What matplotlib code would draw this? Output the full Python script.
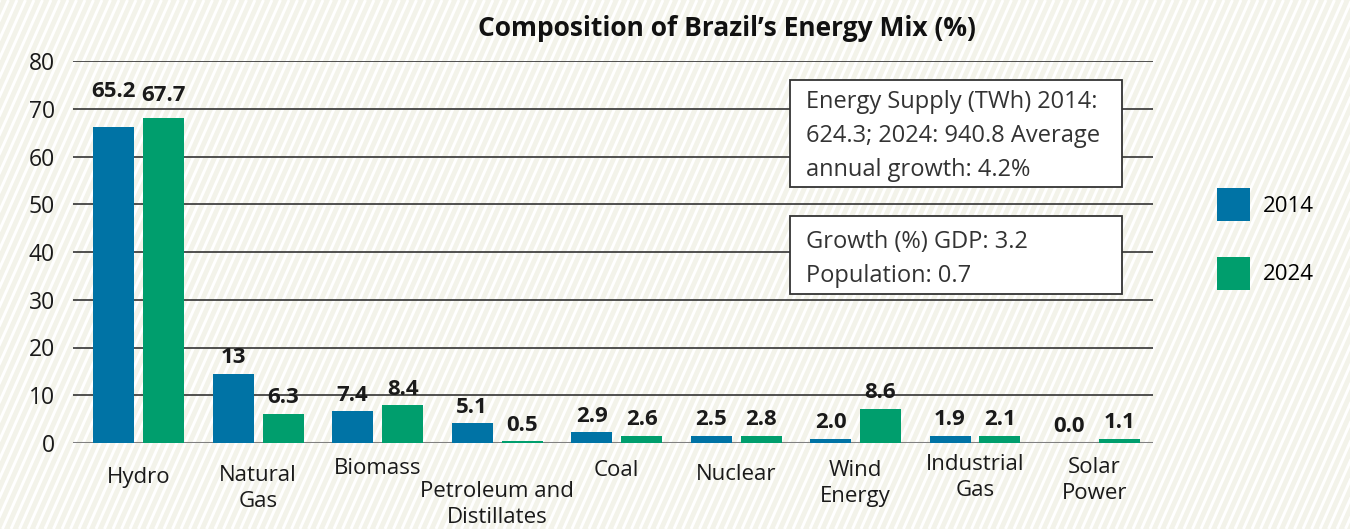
import matplotlib
matplotlib.use('Agg')
import matplotlib.pyplot as plt
from matplotlib.patches import Rectangle
from matplotlib.collections import LineCollection
import numpy as np

plt.rcParams['font.family'] = ['Open Sans', 'DejaVu Sans']

# data
categories = ['Hydro', 'Natural\nGas', 'Biomass', 'Petroleum and\nDistillates', 'Coal',
              'Nuclear', 'Wind\nEnergy', 'Industrial\nGas', 'Solar\nPower']
bars_2014 = [66.1, 14.5, 6.6, 4.1, 2.2, 1.5, 0.9, 1.5, 0.1]
bars_2024 = [68.0, 6.1, 7.9, 0.35, 1.5, 1.5, 7.2, 1.5, 0.9]
labels_2014 = ['65.2', '13', '7.4', '5.1', '2.9', '2.5', '2.0', '1.9', '0.0']
labels_2024 = ['67.7', '6.3', '8.4', '0.5', '2.6', '2.8', '8.6', '2.1', '1.1']
series_names = ['2014', '2024']
note_supply = 'Energy Supply (TWh) 2014:\n624.3; 2024: 940.8 Average\nannual growth: 4.2%'
note_growth = 'Growth (%) GDP: 3.2\nPopulation: 0.7'

BLUE = '#0073a5'
GREEN = '#009e6d'
W, H = 1350, 529

fig = plt.figure(figsize=(13.5, 5.29), dpi=100)
fig.patch.set_facecolor('#f3f3ea')

# steep white diagonal stripes over the beige background
pitch, ang = 8.5, np.radians(66)
shift = H / np.tan(ang)
segs = [[(x0 / W, 0), ((x0 + shift) / W, 1)] for x0 in np.arange(-shift - pitch, W + pitch, pitch)]
fig.add_artist(LineCollection(segs, colors='white', linewidths=2.1, transform=fig.transFigure,
                              zorder=-10))

ax = fig.add_axes([73 / W, 1 - 443 / H, 1080 / W, 382 / H])
ax.set_facecolor('none')

x = np.arange(len(categories))
bw = 0.343
b1 = ax.bar(x - 0.209, bars_2014, bw, color=BLUE, label=series_names[0], zorder=3)
b2 = ax.bar(x + 0.209, bars_2024, bw, color=GREEN, label=series_names[1], zorder=3)

# value labels; the hydro ones sit higher in the original
nudge = {(0, 0): 20, (0, 1): 6.5}
for s, (bars, labs) in enumerate([(b1, labels_2014), (b2, labels_2024)]):
    for i, (rect, lab) in enumerate(zip(bars, labs)):
        dy = 10.5 + nudge.get((i, s), 0)
        ax.annotate(lab, (rect.get_x() + rect.get_width() / 2, rect.get_height()),
                    xytext=(0, dy), textcoords='offset pixels', ha='center', va='baseline',
                    fontsize=16, fontweight='bold', color='#1a1a1a', zorder=4)

ax.set_xlim(-0.55, 8.49)
ax.set_ylim(0, 80)
ax.set_yticks(range(0, 81, 10))
ax.tick_params(axis='y', length=0, pad=13, labelsize=16.5, labelcolor='#1a1a1a')
ax.set_xticks([])
for sp in ax.spines.values():
    sp.set_visible(False)
ax.set_axisbelow(True)
ax.yaxis.grid(True, color='#333333', lw=1.2)
ax.axhline(0, color='#808080', lw=2.2, zorder=2)

# category labels, each at its own depth like the original
label_drop = [33, 31, 24, 47, 26, 30, 26, 20, 23]
for i, (cat, d) in enumerate(zip(categories, label_drop)):
    ax.annotate(cat, (i, 0), xycoords=('data', 'axes fraction'), xytext=(0, -(d - 9)),
                textcoords='offset pixels', ha='center', va='top', fontsize=16,
                linespacing=1.32, color='#1a1a1a')

fig.text(727 / W, 1 - 28 / H, 'Composition of Brazil\u2019s Energy Mix (%)', ha='center',
         va='center', fontsize=19, fontweight='bold', color='#111111')

# note boxes
for (top, bottom, pad, txt) in [(80, 187, 10, note_supply), (216, 294, 14, note_growth)]:
    fig.patches.append(Rectangle((790 / W, 1 - bottom / H), 332 / W, (bottom - top) / H,
                                 transform=fig.transFigure, facecolor='white',
                                 edgecolor='#333333', lw=1.3, zorder=5))
    fig.text(806 / W, 1 - (top + pad) / H, txt, ha='left', va='top', fontsize=17,
             linespacing=1.55, color='#333333', zorder=6)

ax.legend(loc='upper left', bbox_to_anchor=(1217 / W, 1 - 188 / H),
          bbox_transform=fig.transFigure, frameon=False, fontsize=16,
          handlelength=1.49, handleheight=1.91, labelspacing=1.61, handletextpad=0.59,
          borderpad=0, borderaxespad=0)

fig.savefig('out.png', dpi=100, facecolor=fig.get_facecolor())
